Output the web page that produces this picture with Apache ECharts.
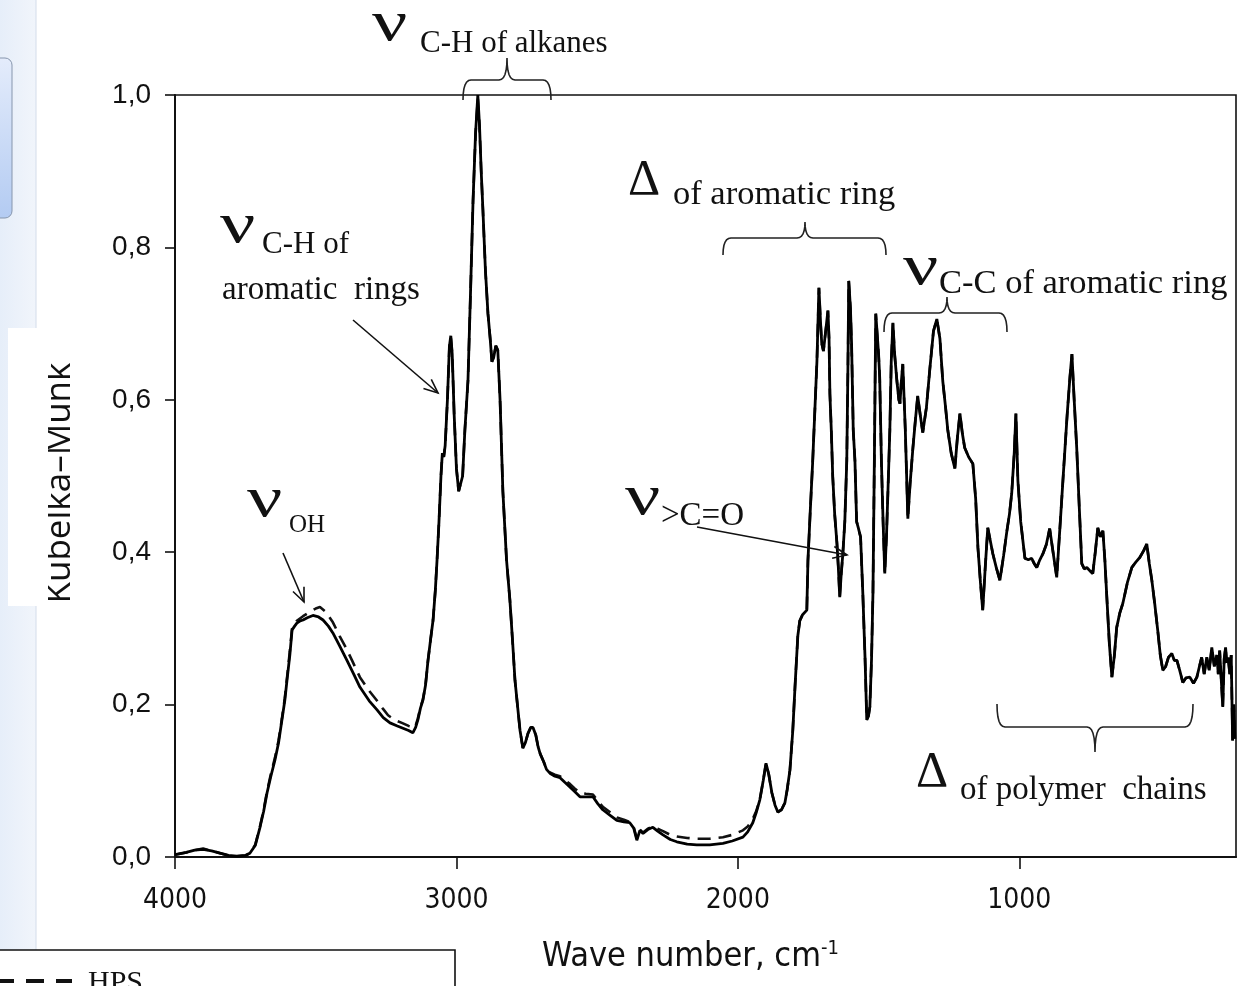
<!DOCTYPE html>
<html><head><meta charset="utf-8">
<script src="https://cdn.jsdelivr.net/npm/echarts@6/dist/echarts.min.js"></script>
<style>html,body{margin:0;padding:0;background:#fff}#c{width:1259px;height:986px}</style>
</head><body><div id="c"></div>
<script>
// ---- data ----
const xTickValues = [4000, 3000, 2000, 1000];
const yTickValues = [0, 0.2, 0.4, 0.6, 0.8, 1.0];

// solid spectrum [wavenumber, Kubelka-Munk]
const solidSpectrum = [
[4000,0.003],[3960,0.006],[3930,0.009],[3900,0.010],[3870,0.008],[3840,0.005],[3810,0.002],[3780,0.001],[3750,0.002],[3734,0.005],[3715,0.015],[3698,0.039],[3685,0.060],[3673,0.084],[3660,0.105],[3645,0.127],[3632,0.150],[3620,0.180],[3610,0.205],[3602,0.232],[3592,0.265],[3584,0.298],[3575,0.303],[3567,0.307],[3555,0.310],[3545,0.311],[3530,0.314],[3510,0.317],[3490,0.315],[3474,0.311],[3455,0.303],[3439,0.294],[3415,0.277],[3389,0.258],[3365,0.240],[3343,0.223],[3310,0.205],[3282,0.193],[3260,0.183],[3236,0.176],[3210,0.172],[3190,0.169],[3170,0.166],[3155,0.163],[3145,0.170],[3137,0.180],[3128,0.195],[3119,0.206],
[3110,0.225],[3101,0.258],[3092,0.285],[3083,0.311],[3075,0.350],[3069,0.389],[3062,0.440],[3055,0.500],[3050,0.530],[3045,0.525],[3040,0.540],[3032,0.600],[3025,0.670],[3020,0.684],[3015,0.660],[3008,0.580],[3000,0.510],[2992,0.480],[2985,0.478],[2978,0.500],[2970,0.560],[2959,0.625],[2950,0.740],[2941,0.861],[2932,0.950],[2924,1.000],[2918,0.960],[2912,0.900],[2906,0.850],[2897,0.770],[2888,0.713],[2880,0.680],[2874,0.650],[2868,0.655],[2860,0.671],[2853,0.665],[2845,0.600],[2835,0.480],[2822,0.390],[2810,0.337],[2800,0.280],[2792,0.232],[2782,0.195],[2774,0.166],[2764,0.143],[2755,0.150],[2746,0.162],[2736,0.170],[2728,0.170],[2718,0.160],[2710,0.145],[2703,0.136],[2690,0.125],[2680,0.115],[2668,0.110],[2650,0.106],[2632,0.104],[2615,0.098],[2597,0.092],[2580,0.086],[2561,0.079],[2540,0.079],[2515,0.079],[2498,0.070],[2480,0.062],[2455,0.055],[2430,0.048],[2405,0.046],[2384,0.045],[2370,0.038],[2359,0.022],[2348,0.035],[2337,0.031],[2320,0.036],[2302,0.039],[2285,0.034],[2266,0.029],[2240,0.023],[2217,0.020],[2180,0.017],[2146,0.016],[2100,0.016],[2053,0.018],[2020,0.021],[1982,0.026],[1965,0.033],[1947,0.045],
[1935,0.058],[1922,0.075],[1910,0.100],[1900,0.123],[1890,0.108],[1879,0.084],[1868,0.068],[1858,0.059],[1845,0.062],[1833,0.071],[1825,0.088],[1815,0.114],[1805,0.165],[1797,0.223],[1787,0.290],[1780,0.310],[1770,0.318],[1755,0.324],[1751,0.389],[1742,0.460],[1734,0.520],[1726,0.590],[1719,0.651],[1712,0.747],[1706,0.700],[1702,0.674],[1696,0.664],[1691,0.665],[1685,0.700],[1680,0.717],[1676,0.680],[1673,0.608],[1668,0.560],[1663,0.500],[1656,0.450],[1648,0.412],[1643,0.380],[1638,0.341],[1633,0.370],[1627,0.398],[1620,0.440],[1613,0.520],[1609,0.640],[1606,0.756],[1600,0.720],[1596,0.674],[1590,0.560],[1584,0.520],[1578,0.440],[1572,0.432],[1564,0.420],[1556,0.346],[1548,0.260],[1542,0.180],[1536,0.185],[1531,0.197],[1525,0.260],[1520,0.346],[1515,0.520],[1510,0.713],[1506,0.714],[1500,0.660],[1496,0.629],[1490,0.520],[1484,0.440],[1478,0.372],[1472,0.420],[1467,0.477],[1460,0.560],[1455,0.650],[1449,0.701],[1443,0.660],[1435,0.625],[1428,0.600],[1424,0.595],[1420,0.620],[1414,0.647],[1405,0.560],[1396,0.444],[1388,0.490],[1378,0.537],[1370,0.570],[1361,0.605],[1352,0.580],[1343,0.557],[1330,0.590],[1318,0.640],[1305,0.690],[1293,0.706],[1282,0.680],[1272,0.625],[1262,0.590],[1254,0.560],[1242,0.530],[1229,0.510],[1220,0.550],[1211,0.582],[1202,0.555],[1194,0.537],[1180,0.525],[1165,0.516],[1155,0.470],[1147,0.406],[1138,0.360],[1130,0.324],[1121,0.380],[1112,0.432],[1103,0.415],[1094,0.398],[1082,0.380],[1069,0.363],[1056,0.395],[1044,0.428],[1035,0.450],[1027,0.477],[1018,0.530],[1012,0.582],[1005,0.494],[995,0.440],[980,0.392],[968,0.390],[956,0.392],[947,0.385],[938,0.380],[927,0.390],[916,0.398],[904,0.410],[892,0.431],[880,0.400],[867,0.367],[856,0.430],[845,0.494],[830,0.580],[820,0.630],[813,0.660],[805,0.600],[796,0.537],[787,0.460],[778,0.385],[769,0.378],[760,0.380],[750,0.376],[739,0.372],[730,0.400],[721,0.432],[712,0.420],[703,0.428],[696,0.390],[689,0.341],[680,0.280],[671,0.236],[662,0.265],[654,0.301],[643,0.320],[632,0.333],[616,0.360],[600,0.380],[586,0.387],[572,0.393],[558,0.402],[547,0.411],[538,0.385],[529,0.363],[518,0.330],[508,0.297],[499,0.265],[490,0.245],[480,0.250],[470,0.262],[458,0.267],[449,0.258],[440,0.258],[430,0.245],[419,0.229],[408,0.235],[394,0.236],[381,0.228],[369,0.236],[360,0.250],[352,0.262],[343,0.240],[334,0.262],[325,0.245],[316,0.275],[307,0.250],[298,0.265],[293,0.240],[288,0.271],[282,0.230],[277,0.197],[272,0.260],[267,0.275],[263,0.255],[258,0.262],[252,0.240],[247,0.265],[242,0.153],[238,0.200],[234,0.155]
];

// dashed spectrum (HPS)
const hpsSpectrum = [
[4000,0.003],[3960,0.006],[3930,0.009],[3900,0.011],[3870,0.008],[3840,0.005],[3810,0.002],[3780,0.001],[3750,0.002],[3734,0.005],[3715,0.016],[3698,0.040],[3685,0.062],[3673,0.086],[3660,0.108],[3645,0.130],[3632,0.153],[3620,0.182],[3610,0.208],[3602,0.235],[3592,0.270],[3584,0.300],[3575,0.306],[3567,0.310],[3545,0.316],[3520,0.322],[3500,0.326],[3485,0.328],[3465,0.322],[3439,0.308],[3415,0.290],[3389,0.272],[3371,0.258],[3343,0.236],[3310,0.218],[3282,0.205],[3260,0.194],[3243,0.186],[3220,0.180],[3194,0.176],[3170,0.172],[3147,0.170],[3137,0.182],[3128,0.196],[3119,0.207],
[3110,0.225],[3101,0.258],[3092,0.285],[3083,0.311],[3075,0.350],[3069,0.389],[3062,0.440],[3055,0.500],[3050,0.530],[3045,0.525],[3040,0.540],[3032,0.600],[3025,0.670],[3020,0.682],[3015,0.660],[3008,0.580],[3000,0.510],[2992,0.480],[2985,0.478],[2978,0.500],[2970,0.560],[2959,0.625],[2950,0.740],[2941,0.861],[2932,0.950],[2924,0.995],[2918,0.960],[2912,0.900],[2906,0.850],[2897,0.770],[2888,0.713],[2880,0.680],[2874,0.650],[2868,0.655],[2860,0.671],[2853,0.665],[2845,0.600],[2835,0.480],[2822,0.390],[2810,0.337],[2800,0.280],[2792,0.232],[2782,0.195],[2774,0.166],[2764,0.143],[2755,0.150],[2746,0.162],[2736,0.170],[2728,0.170],[2718,0.160],[2710,0.145],[2703,0.136],[2690,0.125],[2680,0.116],[2668,0.111],[2650,0.108],[2632,0.106],[2615,0.101],[2597,0.096],[2580,0.090],[2561,0.084],[2540,0.083],[2515,0.082],[2498,0.074],[2480,0.066],[2455,0.059],[2430,0.052],[2405,0.049],[2384,0.046],[2370,0.039],[2359,0.024],[2348,0.036],[2337,0.032],[2320,0.037],[2302,0.040],[2285,0.037],[2266,0.034],[2240,0.029],[2217,0.027],[2180,0.025],[2146,0.024],[2100,0.024],[2053,0.026],[2020,0.029],[1982,0.035],[1965,0.040],[1947,0.050],
[1935,0.060],[1922,0.075],[1910,0.100],[1900,0.123],[1890,0.108],[1879,0.084],[1868,0.068],[1858,0.059],[1845,0.062],[1833,0.071],[1825,0.088],[1815,0.114],[1805,0.165],[1797,0.223],[1787,0.290],[1780,0.310],[1770,0.318],[1755,0.324],[1751,0.389],[1742,0.460],[1734,0.520],[1726,0.590],[1719,0.651],[1712,0.747],[1706,0.700],[1702,0.674],[1696,0.664],[1691,0.665],[1685,0.700],[1680,0.717],[1676,0.680],[1673,0.608],[1668,0.560],[1663,0.500],[1656,0.450],[1648,0.412],[1643,0.380],[1638,0.341],[1633,0.370],[1627,0.398],[1620,0.440],[1613,0.520],[1609,0.640],[1606,0.756],[1600,0.720],[1596,0.674],[1590,0.560],[1584,0.520],[1578,0.440],[1572,0.432],[1564,0.420],[1556,0.346],[1548,0.260],[1542,0.180],[1536,0.185],[1531,0.197],[1525,0.260],[1520,0.346],[1515,0.520],[1510,0.713],[1506,0.714],[1500,0.660],[1496,0.629],[1490,0.520],[1484,0.440],[1478,0.372],[1472,0.420],[1467,0.477],[1460,0.560],[1455,0.650],[1449,0.701],[1443,0.660],[1435,0.625],[1428,0.600],[1424,0.595],[1420,0.620],[1414,0.647],[1405,0.560],[1396,0.444],[1388,0.490],[1378,0.537],[1370,0.570],[1361,0.605],[1352,0.580],[1343,0.557],[1330,0.590],[1318,0.640],[1305,0.690],[1293,0.706],[1282,0.680],[1272,0.625],[1262,0.590],[1254,0.560],[1242,0.530],[1229,0.510],[1220,0.550],[1211,0.582],[1202,0.555],[1194,0.537],[1180,0.525],[1165,0.516],[1155,0.470],[1147,0.406],[1138,0.360],[1130,0.324],[1121,0.380],[1112,0.432],[1103,0.415],[1094,0.398],[1082,0.380],[1069,0.363],[1056,0.395],[1044,0.428],[1035,0.450],[1027,0.477],[1018,0.530],[1012,0.582],[1005,0.494],[995,0.440],[980,0.392],[968,0.390],[956,0.392],[947,0.385],[938,0.380],[927,0.390],[916,0.398],[904,0.410],[892,0.431],[880,0.400],[867,0.367],[856,0.430],[845,0.494],[830,0.580],[820,0.630],[813,0.660],[805,0.600],[796,0.537],[787,0.460],[778,0.385],[769,0.378],[760,0.380],[750,0.376],[739,0.372],[730,0.400],[721,0.432],[712,0.420],[703,0.428],[696,0.390],[689,0.341],[680,0.280],[671,0.236],[662,0.265],[654,0.301],[643,0.320],[632,0.333],[616,0.360],[600,0.380],[586,0.387],[572,0.393],[558,0.402],[547,0.411],[538,0.385],[529,0.363],[518,0.330],[508,0.297],[499,0.265],[490,0.245],[480,0.250],[470,0.262],[458,0.267],[449,0.258],[440,0.258],[430,0.245],[419,0.229],[408,0.235],[394,0.236],[381,0.228],[369,0.236],[360,0.250],[352,0.262],[343,0.240],[334,0.262],[325,0.245],[316,0.275],[307,0.250],[298,0.265],[293,0.240],[288,0.271],[282,0.230],[277,0.197],[272,0.260],[267,0.275],[263,0.255],[258,0.262],[252,0.240],[247,0.265],[242,0.153],[238,0.200],[234,0.155]
];

// ---- drawing helpers (annotation decorations) ----
const NARROW = '"DejaVu Sans Condensed", "Liberation Sans", Arial, sans-serif';
function txt(x, baseline, text, size, sx) {
  return { type: 'text', silent: true, z: 50, x: x, y: baseline - 0.305 * size, scaleX: sx || 1,
    style: { text: text, fontFamily: 'Liberation Serif', fontSize: size, fill: '#111',
      textAlign: 'left', textVerticalAlign: 'middle', align: 'left', verticalAlign: 'middle' } };
}
function nu(x, baseline) { return txt(x, baseline, 'ν', 58, 1.35); }
function quad(p0, c, p1, n) {
  const pts = [];
  for (let i = 0; i <= n; i++) {
    const t = i / n, a = (1 - t) * (1 - t), b = 2 * (1 - t) * t, d = t * t;
    pts.push([a * p0[0] + b * c[0] + d * p1[0], a * p0[1] + b * c[1] + d * p1[1]]);
  }
  return pts;
}
function brace(x1, x2, y, endLen, tipLen, xc) {
  xc = xc || (x1 + x2) / 2;
  const r = 8;
  let pts = [];
  pts = pts.concat(quad([x1, y + endLen], [x1, y], [x1 + r, y], 6));
  pts = pts.concat(quad([xc - r, y], [xc, y], [xc, y - tipLen], 6));
  pts = pts.concat(quad([xc, y - tipLen], [xc, y], [xc + r, y], 6));
  pts = pts.concat(quad([x2 - r, y], [x2, y], [x2, y + endLen], 6));
  return { type: 'polyline', silent: true, z: 50, shape: { points: pts },
    style: { stroke: '#222', lineWidth: 1.6, fill: null } };
}
function arrow(x1, y1, x2, y2) {
  const dx = x2 - x1, dy = y2 - y1, L = Math.hypot(dx, dy), ux = dx / L, uy = dy / L;
  const hl = 14, hw = 6;
  const bx = x2 - ux * hl, by = y2 - uy * hl;
  return [
    { type: 'polyline', silent: true, z: 50, shape: { points: [[x1, y1], [x2, y2]] }, style: { stroke: '#111', lineWidth: 1.6 } },
    { type: 'polyline', silent: true, z: 50, shape: { points: [[bx - uy * hw, by + ux * hw], [x2, y2], [bx + uy * hw, by - ux * hw]] }, style: { stroke: '#111', lineWidth: 1.6, fill: null } }
  ];
}

const chart = echarts.init(document.getElementById('c'), null, { renderer: 'canvas' });

const graphics = [
  // left UI panel remnants
  { type: 'rect', silent: true, z: 1, shape: { x: 0, y: 0, width: 36, height: 950 },
    style: { fill: new echarts.graphic.LinearGradient(0, 0, 1, 0, [{ offset: 0, color: '#e6eef9' }, { offset: 1, color: '#f1f5fb' }]) } },
  { type: 'line', silent: true, z: 2, shape: { x1: 36, y1: 0, x2: 36, y2: 950 }, style: { stroke: '#d3dcea', lineWidth: 1 } },
  { type: 'rect', silent: true, z: 3, shape: { x: 8, y: 328, width: 40, height: 278 }, style: { fill: '#ffffff' } },
  { type: 'rect', silent: true, z: 4, shape: { x: -8, y: 58, width: 20, height: 160, r: 7 },
    style: { fill: new echarts.graphic.LinearGradient(0, 0, 0, 1, [{ offset: 0, color: '#e4ecfb' }, { offset: 1, color: '#b3cbf2' }]), stroke: '#8796ad', lineWidth: 1 } },
  // cropped legend box
  { type: 'rect', silent: true, z: 5, shape: { x: -2, y: 950, width: 457, height: 60 }, style: { fill: '#fff', stroke: '#111', lineWidth: 1.6 } },
  { type: 'line', silent: true, z: 6, shape: { x1: 0, y1: 981, x2: 72, y2: 981 }, style: { stroke: '#111', lineWidth: 4, lineDash: [18, 12], lineDashOffset: 4 } },
  txt(88, 992, 'HPS', 30),

  // annotations
  nu(372, 42), txt(420, 53, 'C-H of alkanes', 31),
  brace(463, 551, 80, 20, 22, 507),

  nu(220, 244), txt(262, 254, 'C-H of', 31), txt(222, 300, 'aromatic  rings', 33),
  ...arrow(353, 320, 438, 393),

  txt(628, 196, 'Δ', 50), txt(673, 205, 'of aromatic ring', 34.5),
  brace(723, 886, 238, 17, 16, 805),

  nu(903, 286), txt(939, 294, 'C-C of aromatic ring', 34.5),
  brace(884, 1007, 313, 19, 16, 947),

  nu(625, 516), txt(661, 526, '>C=O', 33),
  ...arrow(697, 527, 847, 555),

  nu(247, 518), txt(289, 533, 'OH', 25),
  ...arrow(283, 553, 304, 602),

  txt(916, 788, 'Δ', 50), txt(960, 800, 'of polymer  chains', 33),
  brace(997, 1193, 727, -23, -25, 1095)
];

const option = {
  animation: false,
  backgroundColor: '#fff',
  grid: { left: 175, right: 23, top: 95, bottom: 129, show: true, borderColor: '#111', borderWidth: 1.6, containLabel: false },
  xAxis: {
    type: 'value', inverse: true, min: 230, max: 4000,
    name: 'Wave number, cm{sup|-1}', nameLocation: 'middle', nameGap: 82,
    nameTextStyle: { fontFamily: NARROW, fontSize: 34, color: '#111', padding: [0, 30, 0, 0],
      rich: { sup: { fontFamily: NARROW, fontSize: 20, color: '#111', verticalAlign: 'top', padding: [0, 0, 16, 0] } } },
    axisLine: { show: true, lineStyle: { color: '#111', width: 2 } },
    axisTick: { show: true, customValues: xTickValues, length: 12, inside: false, lineStyle: { color: '#111', width: 1.6 } },
    axisLabel: { show: true, customValues: xTickValues, margin: 30, fontFamily: NARROW, fontSize: 28, color: '#111',
      formatter: function (v) { return String(v); } },
    splitLine: { show: false }
  },
  yAxis: {
    type: 'value', min: 0, max: 1, interval: 0.2,
    name: 'Kubelka–Munk', nameLocation: 'middle', nameGap: 97, nameRotate: 90,
    nameTextStyle: { fontFamily: 'Open Sans', fontSize: 35, color: '#111', padding: [0, 14, 0, 0] },
    axisLine: { show: true, lineStyle: { color: '#111', width: 2 } },
    axisTick: { show: true, length: 10, inside: false, lineStyle: { color: '#111', width: 1.6 } },
    axisLabel: { margin: 24, fontFamily: 'Liberation Sans', fontSize: 28, color: '#111',
      formatter: function (v) { return v.toFixed(1).replace('.', ','); } },
    splitLine: { show: false }
  },
  series: [
    { name: 'HPS', type: 'line', data: hpsSpectrum, symbol: 'none', smooth: false, z: 2,
      lineStyle: { color: '#111', width: 2.6, type: [13, 8] } },
    { name: 'spectrum', type: 'line', data: solidSpectrum, symbol: 'none', smooth: false, z: 3,
      lineStyle: { color: '#000', width: 2.8 } }
  ],
  graphic: graphics
};
chart.setOption(option);
</script>
</body></html>
